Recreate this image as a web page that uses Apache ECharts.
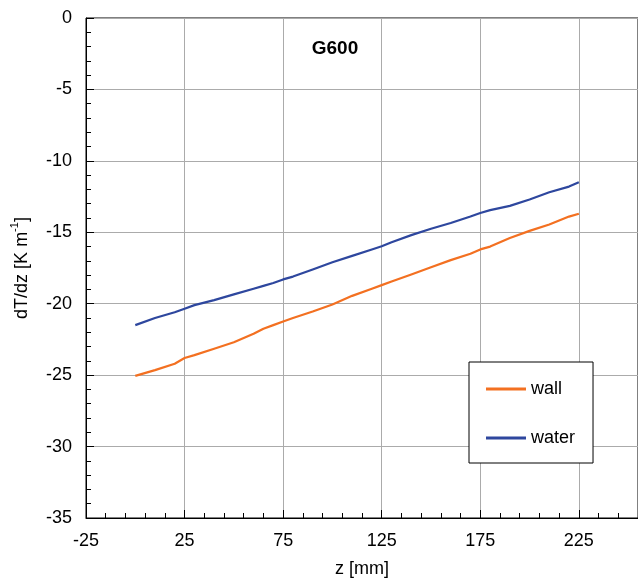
<!DOCTYPE html>
<html>
<head>
    <meta charset="utf-8" />
    <script src="https://cdn.jsdelivr.net/npm/echarts@6/dist/echarts.min.js"></script>
    <style>
        html, body { margin: 0; padding: 0; background: #fff; }
    </style>
</head>
<body>
    <div id="main" style="width:638px;height:579px;"></div>
    <script>
        // z positions [mm]
        var zPos = [0, 10, 20, 25, 30, 40, 50, 60, 65, 70, 75, 80, 90, 100, 110, 120, 125, 130, 140, 150, 160, 170, 175, 180, 190, 200, 210, 220, 225];
        // dT/dz [K/m]
        var wallVals = [-25.05, -24.65, -24.2, -23.8, -23.6, -23.15, -22.7, -22.1, -21.75, -21.5, -21.25, -21.0, -20.55, -20.05, -19.45, -18.95, -18.7, -18.45, -17.95, -17.45, -16.95, -16.5, -16.2, -16.0, -15.4, -14.9, -14.45, -13.9, -13.7];
        var waterVals = [-21.5, -21.0, -20.6, -20.35, -20.1, -19.75, -19.35, -18.95, -18.75, -18.55, -18.3, -18.1, -17.6, -17.1, -16.65, -16.2, -15.98, -15.7, -15.2, -14.75, -14.35, -13.9, -13.65, -13.45, -13.15, -12.7, -12.2, -11.8, -11.5];

        function pairs(vals) {
            return zPos.map(function (z, i) { return [z, vals[i]]; });
        }

        var font = 'Liberation Sans';
        var myChart = echarts.init(document.getElementById('main'));

        var option = {
            animation: false,
            textStyle: { fontFamily: font, color: '#000' },
            grid: {
                left: 86,
                top: 18,
                right: 0,
                height: 500,
                outerBoundsMode: 'none',
                show: true,
                borderColor: '#000',
                borderWidth: 1
            },
            graphic: [{
                type: 'text',
                x: 335,
                y: 49,
                style: {
                    text: 'G600',
                    font: 'bold 19px Liberation Sans',
                    fill: '#000',
                    textAlign: 'center',
                    textVerticalAlign: 'middle'
                }
            }],
            legend: {
                orient: 'vertical',
                left: 469,
                top: 362,
                padding: [18, 18, 16, 17],
                borderColor: '#000',
                borderWidth: 1,
                backgroundColor: '#fff',
                itemWidth: 40,
                itemHeight: 3,
                itemGap: 31,
                icon: 'rect',
                textStyle: { fontFamily: font, fontSize: 18, color: '#000' },
                data: ['wall', 'water']
            },
            xAxis: {
                type: 'value',
                min: -25,
                max: 255,
                interval: 50,
                name: 'z [mm]',
                nameLocation: 'middle',
                nameGap: 42,
                nameTextStyle: { fontFamily: font, fontSize: 18, color: '#000' },
                axisLine: { onZero: false, lineStyle: { color: '#000', width: 1 } },
                axisTick: { inside: true, length: 8, lineStyle: { color: '#000' } },
                minorTick: { show: true, splitNumber: 5, length: 5, lineStyle: { color: '#000' } },
                axisLabel: { fontFamily: font, fontSize: 18, color: '#000', margin: 14, showMaxLabel: false },
                splitLine: { show: true, lineStyle: { color: '#ababab', width: 1 } }
            },
            yAxis: {
                type: 'value',
                min: -35,
                max: 0,
                interval: 5,
                name: '{a|dT/dz [K m}{s|-1}{a|]}',
                nameLocation: 'middle',
                nameGap: 55,
                nameTextStyle: {
                    fontFamily: font,
                    rich: {
                        a: { fontFamily: font, fontSize: 18, color: '#000', lineHeight: 22, verticalAlign: 'bottom' },
                        s: { fontFamily: font, fontSize: 11, color: '#000', lineHeight: 22, verticalAlign: 'top' }
                    }
                },
                axisLine: { show: true, onZero: false, lineStyle: { color: '#000', width: 1 } },
                axisTick: { show: true, inside: true, length: 8, lineStyle: { color: '#000' } },
                minorTick: { show: true, splitNumber: 5, length: 5, lineStyle: { color: '#000' } },
                axisLabel: { fontFamily: font, fontSize: 18, color: '#000', margin: 14 },
                splitLine: { show: true, lineStyle: { color: '#ababab', width: 1 } }
            },
            series: [
                {
                    name: 'wall',
                    type: 'line',
                    symbol: 'none',
                    data: pairs(wallVals),
                    itemStyle: { color: '#F37021' },
                    lineStyle: { color: '#F37021', width: 2.2 }
                },
                {
                    name: 'water',
                    type: 'line',
                    symbol: 'none',
                    data: pairs(waterVals),
                    itemStyle: { color: '#2E479E' },
                    lineStyle: { color: '#2E479E', width: 2.2 }
                }
            ]
        };

        myChart.setOption(option);
    </script>
</body>
</html>
